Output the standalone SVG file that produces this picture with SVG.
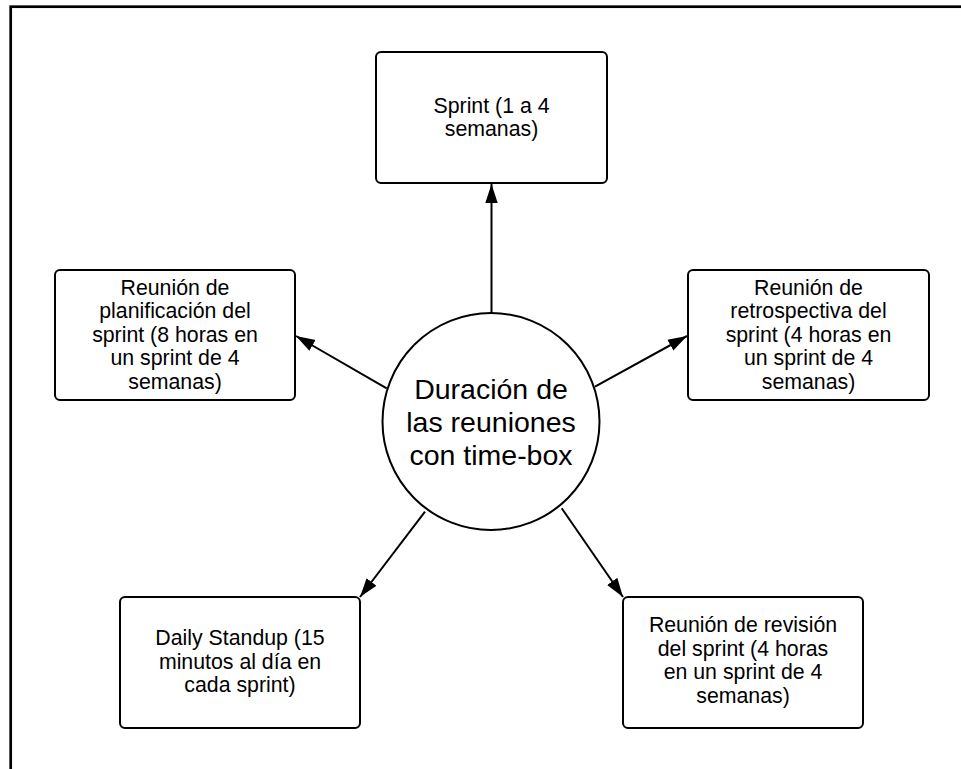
<svg xmlns="http://www.w3.org/2000/svg" width="961" height="769" viewBox="0 0 961 769">
  <defs>
    <style>
      .box { fill: #ffffff; stroke: #000000; stroke-width: 2; }
      .hub { fill: #ffffff; stroke: #000000; stroke-width: 2; }
      .lbl { font-family: "Liberation Sans", Arial, sans-serif; font-size: 21.3px; fill: #000000; text-anchor: middle; }
      .big { font-family: "Liberation Sans", Arial, sans-serif; font-size: 28.5px; fill: #000000; text-anchor: middle; }
      .edge { fill: none; stroke: #000000; stroke-width: 2; marker-end: url(#arrow); }
    </style>
    <marker id="arrow" markerUnits="userSpaceOnUse" markerWidth="20" markerHeight="14" viewBox="0 0 20 14" refX="19" refY="7" orient="auto">
      <path d="M0,0.8 L19,7 L0,13.2 Z" fill="#000000"/>
    </marker>
  </defs>
  <rect x="0" y="0" width="961" height="769" fill="#ffffff"/>
  <rect id="frame" x="10.7" y="6.7" width="1000" height="1000" fill="none" stroke="#000000" stroke-width="2.7"/>

  <g id="connectors">
    <line class="edge" x1="491.5" y1="313" x2="491.5" y2="184"/>
    <line class="edge" x1="386.7" y1="388.3" x2="296" y2="336"/>
    <line class="edge" x1="595" y1="386.7" x2="687" y2="336"/>
    <line class="edge" x1="425" y1="511.7" x2="360" y2="597"/>
    <line class="edge" x1="561.7" y1="508.3" x2="623" y2="597"/>
  </g>

  <g id="hub">
    <circle class="hub" cx="491" cy="421.5" r="108.5"/>
    <text class="big" x="491" y="399">Duración de</text>
    <text class="big" x="491" y="432">las reuniones</text>
    <text class="big" x="491" y="465">con time-box</text>
  </g>

  <g id="sprint">
    <rect class="box" x="376" y="52" width="231" height="131" rx="5"/>
    <text class="lbl" x="491.5" y="112.7">Sprint (1 a 4</text>
    <text class="lbl" x="491.5" y="135.5">semanas)</text>
  </g>

  <g id="planificacion">
    <rect class="box" x="55" y="270" width="240" height="130" rx="5"/>
    <text class="lbl" x="175" y="295">Reunión de</text>
    <text class="lbl" x="175" y="318.4">planificación del</text>
    <text class="lbl" x="175" y="341.8">sprint (8 horas en</text>
    <text class="lbl" x="175" y="365.2">un sprint de 4</text>
    <text class="lbl" x="175" y="388.6">semanas)</text>
  </g>

  <g id="retrospectiva">
    <rect class="box" x="688" y="270" width="241" height="130" rx="5"/>
    <text class="lbl" x="808.5" y="295">Reunión de</text>
    <text class="lbl" x="808.5" y="318.4">retrospectiva del</text>
    <text class="lbl" x="808.5" y="341.8">sprint (4 horas en</text>
    <text class="lbl" x="808.5" y="365.2">un sprint de 4</text>
    <text class="lbl" x="808.5" y="388.6">semanas)</text>
  </g>

  <g id="daily">
    <rect class="box" x="120" y="597" width="240" height="131" rx="5"/>
    <text class="lbl" x="240" y="645">Daily Standup (15</text>
    <text class="lbl" x="240" y="668.6">minutos al día en</text>
    <text class="lbl" x="240" y="692.2">cada sprint)</text>
  </g>

  <g id="revision">
    <rect class="box" x="623" y="597" width="240" height="131" rx="5"/>
    <text class="lbl" x="743" y="632">Reunión de revisión</text>
    <text class="lbl" x="743" y="655.5">del sprint (4 horas</text>
    <text class="lbl" x="743" y="679">en un sprint de 4</text>
    <text class="lbl" x="743" y="702.5">semanas)</text>
  </g>
</svg>
